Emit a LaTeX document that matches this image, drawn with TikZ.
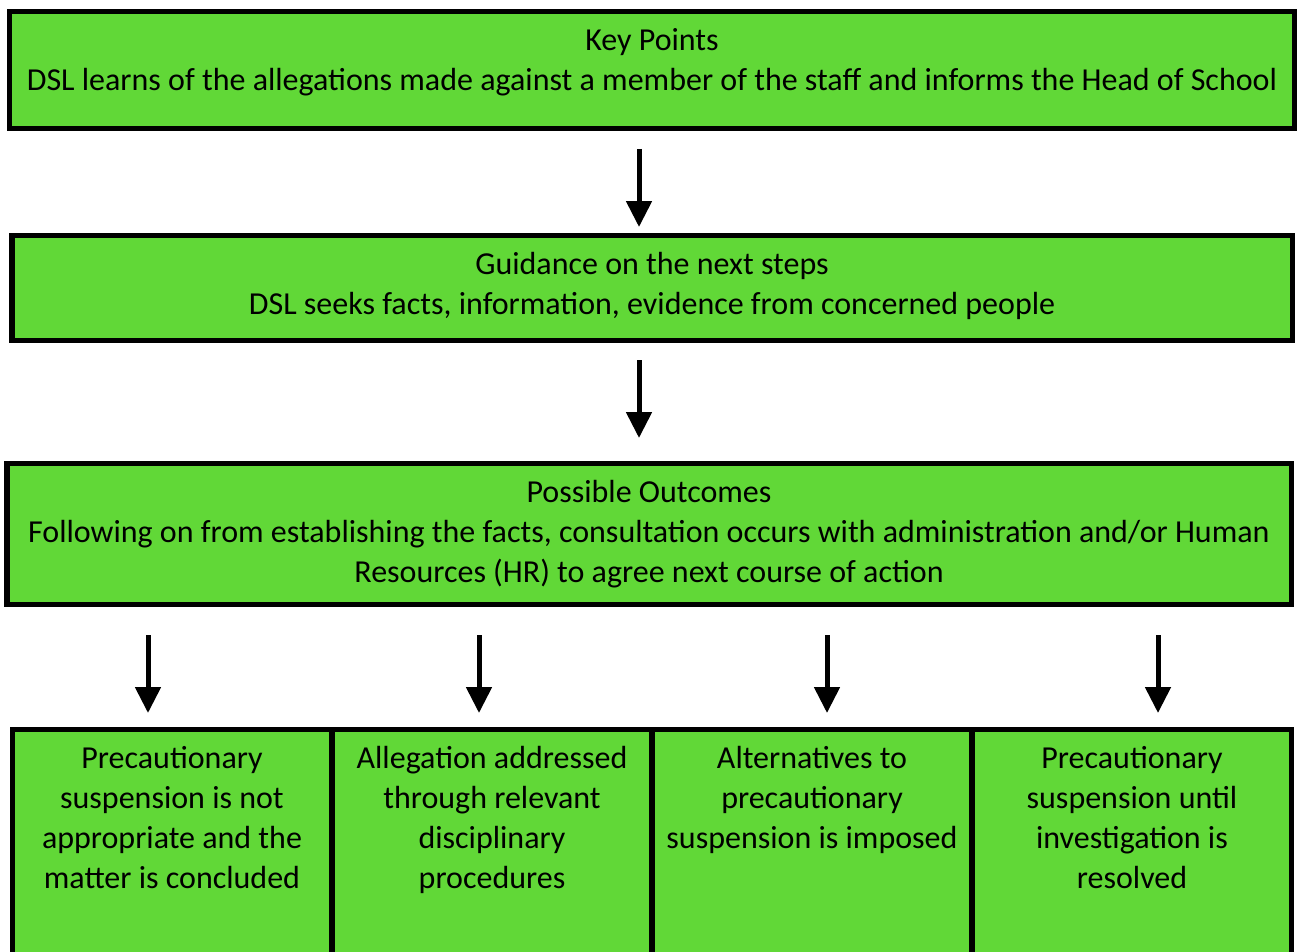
\documentclass[tikz,border=0pt]{standalone}
\usepackage{fontspec}
\setmainfont{Carlito}
\usetikzlibrary{arrows.meta}
\definecolor{boxgreen}{RGB}{97,216,55}
\tikzset{
  box/.style={draw=black, fill=boxgreen, line width=5.5pt, inner sep=0pt, outer sep=0pt},
  lbl/.style={align=center, inner sep=0pt, font=\fontsize{32}{40}\selectfont},
  arr/.style={line width=5pt, -{Triangle[width=25pt,length=26pt]}}
}
\begin{document}
\begin{tikzpicture}[x=1pt,y=-1pt]
\useasboundingbox (0,0) rectangle (1297,952);
% top boxes
\node[box, minimum width=1285pt, minimum height=117pt] (b1) at (652,70) {};
\node[box, minimum width=1280.5pt, minimum height=105pt] (b2) at (652.25,288) {};
\node[box, minimum width=1284.5pt, minimum height=141pt] (b3) at (649.25,534) {};
% bottom boxes (extend beyond page)
\node[box, minimum width=319.5pt, minimum height=250pt, anchor=north west] (c1) at (12.5,729.5) {};
\node[box, minimum width=320pt, minimum height=250pt, anchor=north west] (c2) at (332,729.5) {};
\node[box, minimum width=320pt, minimum height=250pt, anchor=north west] (c3) at (652,729.5) {};
\node[box, minimum width=319.5pt, minimum height=250pt, anchor=north west] (c4) at (972,729.5) {};
% texts
\node[lbl] (t1) at (652,62) {Key Points\\DSL learns of the allegations made against a member of the staff and informs the Head of School};
\node[lbl] (t2) at (652,286) {Guidance on the next steps\\DSL seeks facts, information, evidence from concerned people};
\node[lbl] (t3) at (649,534) {Possible Outcomes\\Following on from establishing the facts, consultation occurs with administration and/or Human\\Resources (HR) to agree next course of action};
\node[lbl] (u1) at (172,818) {Precautionary\\suspension is not\\appropriate and the\\matter is concluded};
\node[lbl] (u2) at (492,820) {Allegation addressed\\through relevant\\disciplinary\\procedures};
\node[lbl] (u3) at (812,800) {Alternatives to\\precautionary\\suspension is imposed};
\node[lbl] (u4) at (1132,818) {Precautionary\\suspension until\\investigation is\\resolved};
% arrows
\coordinate (a1s) at (639,149); \coordinate (a1e) at (639,227);
\coordinate (a2s) at (639,360); \coordinate (a2e) at (639,438);
\draw[arr] (a1s) -- (a1e);
\draw[arr] (a2s) -- (a2e);
\foreach \x/\n in {148/1,479/2,827/3,1158/4}{
  \coordinate (d\n s) at (\x,635);
  \coordinate (d\n e) at (\x,713);
  \draw[arr] (d\n s) -- (d\n e);
}
\end{tikzpicture}
\end{document}
